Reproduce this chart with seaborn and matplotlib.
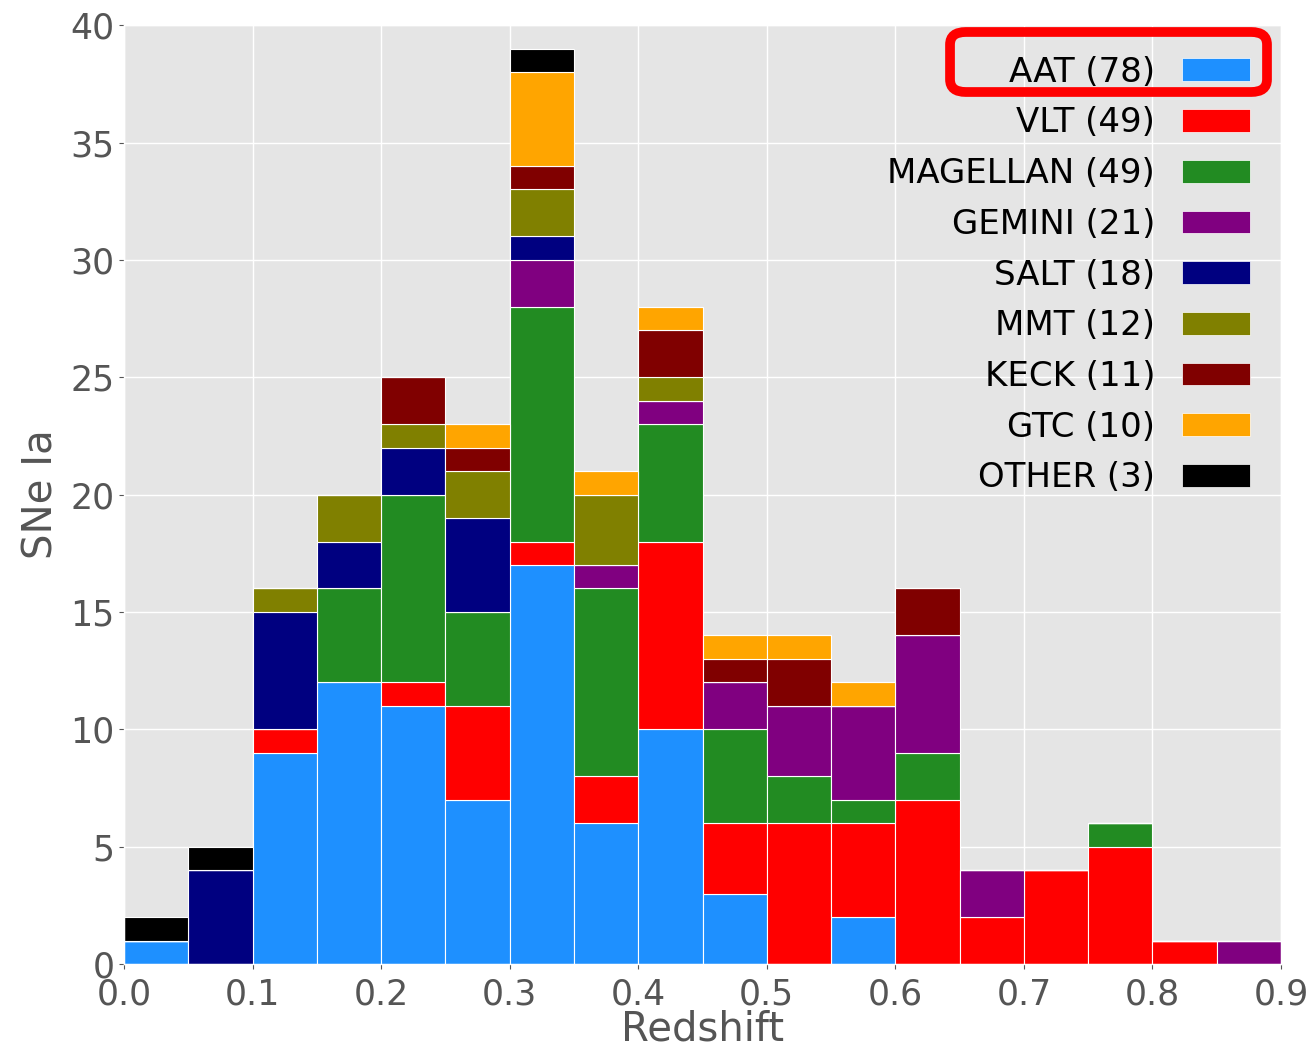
import numpy as np
import pandas as pd
import seaborn as sns
import matplotlib.pyplot as plt
from matplotlib.patches import Patch, FancyBboxPatch

plt.style.use('ggplot')

# counts per redshift bin (0.00-0.05, 0.05-0.10, ..., 0.85-0.90)
edges = np.linspace(0, 0.9, 19)
centers = (edges[:-1] + edges[1:]) / 2

aat      = [1, 0, 9, 12, 11, 7, 17, 6, 10, 3, 0, 2, 0, 0, 0, 0, 0, 0]
vlt      = [0, 0, 1, 0, 1, 4, 1, 2, 8, 3, 6, 4, 7, 2, 4, 5, 1, 0]
magellan = [0, 0, 0, 4, 8, 4, 10, 8, 5, 4, 2, 1, 2, 0, 0, 1, 0, 0]
gemini   = [0, 0, 0, 0, 0, 0, 2, 1, 1, 2, 3, 4, 5, 2, 0, 0, 0, 1]
salt     = [0, 4, 5, 2, 2, 4, 1, 0, 0, 0, 0, 0, 0, 0, 0, 0, 0, 0]
mmt      = [0, 0, 1, 2, 1, 2, 2, 3, 1, 0, 0, 0, 0, 0, 0, 0, 0, 0]
keck     = [0, 0, 0, 0, 2, 1, 1, 0, 2, 1, 2, 0, 2, 0, 0, 0, 0, 0]
gtc      = [0, 0, 0, 0, 0, 1, 4, 1, 1, 1, 1, 1, 0, 0, 0, 0, 0, 0]
other    = [1, 1, 0, 0, 0, 0, 1, 0, 0, 0, 0, 0, 0, 0, 0, 0, 0, 0]

names = ['AAT', 'VLT', 'MAGELLAN', 'GEMINI', 'SALT', 'MMT', 'KECK', 'GTC', 'OTHER']
series = [aat, vlt, magellan, gemini, salt, mmt, keck, gtc, other]
colors = ['dodgerblue', 'red', 'forestgreen', 'purple', 'navy', 'olive', 'maroon', 'orange', 'black']

rows = []
for name, vals in zip(names, series):
    for z, n in zip(centers, vals):
        rows.append({'z': z, 'n': n, 'tel': name})
df = pd.DataFrame(rows)

fig = plt.figure(figsize=(13.12, 10.49), dpi=100)
ax = fig.add_axes([0.0945, 0.081, 0.8819, 0.895])

sns.histplot(data=df, x='z', weights='n', hue='tel', hue_order=names[::-1],
             multiple='stack', bins=edges.tolist(), palette=dict(zip(names, colors)),
             alpha=1, edgecolor='white', linewidth=0.8, legend=False, ax=ax)

ax.set_xlim(0, 0.9)
ax.set_ylim(0, 40)
ax.set_xticks(np.arange(0, 0.91, 0.1))
ax.set_xlabel('Redshift', fontsize=29, color='#555555', labelpad=-1)
ax.set_ylabel('SNe Ia', fontsize=29, color='#555555', labelpad=6)
ax.tick_params(labelsize=25, colors='#555555')
ax.tick_params(axis='x', pad=6)
ax.set_axisbelow(True)
ax.grid(color='white', linewidth=1)

handles = [Patch(facecolor=c, edgecolor='white') for c in colors]
labels = ['%s (%d)' % (n, sum(v)) for n, v in zip(names, series)]
ax.legend(handles, labels, loc='upper right', fontsize=24.5, frameon=False,
          markerfirst=False, handlelength=2.0, handleheight=0.65,
          handletextpad=0.8, labelspacing=0.52)

box = FancyBboxPatch((0.7241, 0.9123), 0.2416, 0.0572,
                     boxstyle='round,pad=0,rounding_size=0.012',
                     transform=fig.transFigure, fill=False, edgecolor='red',
                     linewidth=7, clip_on=False)
fig.add_artist(box)

plt.savefig('out.png', dpi=100)
